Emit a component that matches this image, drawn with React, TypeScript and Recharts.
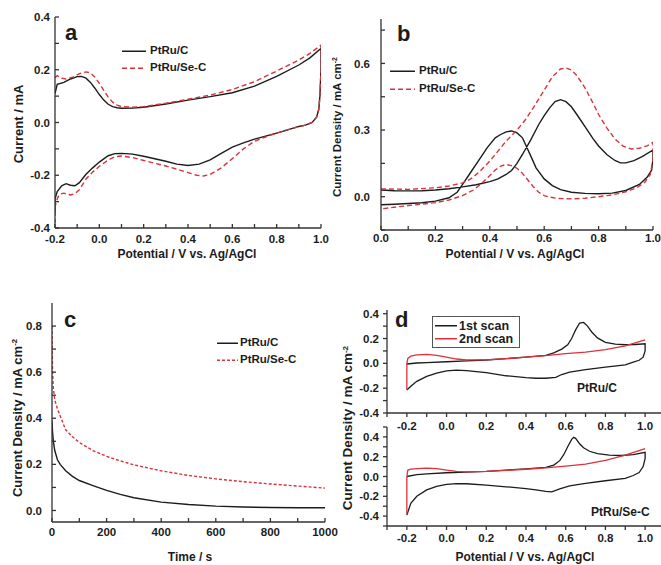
import React from 'react';
import { LineChart, Line, XAxis, YAxis } from 'recharts';

type Pt = [number, number];

// ---- panel a: CV in N2 (current vs potential) ----
const aPtRuC: Pt[] = [
  [-0.2, 0.11], [-0.19, 0.145], [-0.16, 0.152], [-0.13, 0.165], [-0.1, 0.174], [-0.08, 0.175],
  [-0.06, 0.168], [-0.04, 0.152], [-0.02, 0.13], [0.0, 0.106], [0.02, 0.085], [0.04, 0.069],
  [0.06, 0.06], [0.08, 0.056], [0.1, 0.054], [0.15, 0.055], [0.2, 0.058], [0.3, 0.07],
  [0.4, 0.085], [0.5, 0.098], [0.6, 0.113], [0.7, 0.138], [0.8, 0.175], [0.9, 0.218],
  [0.95, 0.245], [1.0, 0.281],
  [1.0, 0.2], [0.995, 0.1], [0.99, 0.05], [0.98, 0.02], [0.96, 0.0], [0.93, -0.01], [0.9, -0.015],
  [0.85, -0.028], [0.8, -0.04], [0.7, -0.063], [0.65, -0.077], [0.6, -0.093], [0.55, -0.117],
  [0.5, -0.142], [0.45, -0.158], [0.4, -0.163], [0.35, -0.158], [0.3, -0.147], [0.2, -0.128],
  [0.15, -0.12], [0.1, -0.117], [0.07, -0.118], [0.04, -0.126], [0.0, -0.15], [-0.03, -0.172],
  [-0.06, -0.196], [-0.09, -0.228], [-0.11, -0.24], [-0.13, -0.238], [-0.15, -0.232],
  [-0.17, -0.24], [-0.19, -0.262], [-0.2, -0.29], [-0.2, -0.34],
];
const aPtRuSeC: Pt[] = [
  [-0.2, 0.17], [-0.19, 0.178], [-0.17, 0.168], [-0.15, 0.165], [-0.12, 0.172], [-0.09, 0.185],
  [-0.06, 0.192], [-0.04, 0.188], [-0.02, 0.172], [0.0, 0.148], [0.02, 0.122], [0.04, 0.096],
  [0.06, 0.077], [0.08, 0.066], [0.1, 0.06], [0.15, 0.058], [0.2, 0.06], [0.3, 0.073],
  [0.4, 0.088], [0.5, 0.104], [0.6, 0.125], [0.7, 0.155], [0.8, 0.195], [0.9, 0.237],
  [0.95, 0.262], [1.0, 0.293],
  [1.0, 0.2], [0.995, 0.1], [0.99, 0.05], [0.98, 0.02], [0.96, 0.0], [0.93, -0.01], [0.9, -0.016],
  [0.85, -0.027], [0.8, -0.04], [0.75, -0.055], [0.7, -0.071], [0.65, -0.1], [0.6, -0.137],
  [0.55, -0.172], [0.5, -0.197], [0.47, -0.203], [0.44, -0.2], [0.4, -0.19], [0.35, -0.177],
  [0.3, -0.165], [0.2, -0.144], [0.15, -0.133], [0.1, -0.127], [0.07, -0.13], [0.04, -0.142],
  [0.0, -0.166], [-0.03, -0.188], [-0.06, -0.214], [-0.09, -0.255], [-0.11, -0.27],
  [-0.13, -0.275], [-0.16, -0.268], [-0.18, -0.272], [-0.19, -0.29], [-0.2, -0.32], [-0.2, -0.38],
];

// ---- panel b: methanol oxidation CV ----
const bPtRuC: Pt[] = [
  [0.0, 0.03], [0.05, 0.027], [0.1, 0.026], [0.15, 0.027], [0.2, 0.03], [0.25, 0.036], [0.3, 0.044],
  [0.35, 0.054], [0.4, 0.068], [0.43, 0.08], [0.46, 0.1], [0.48, 0.118], [0.5, 0.15], [0.52, 0.19],
  [0.55, 0.255], [0.58, 0.325], [0.6, 0.365], [0.62, 0.4], [0.64, 0.428], [0.66, 0.437],
  [0.68, 0.428], [0.7, 0.405], [0.72, 0.37], [0.75, 0.315], [0.78, 0.26], [0.8, 0.228],
  [0.83, 0.19], [0.86, 0.163], [0.88, 0.152], [0.9, 0.152], [0.93, 0.162], [0.96, 0.18], [1.0, 0.21],
  [1.0, 0.17], [0.995, 0.12], [0.98, 0.09], [0.95, 0.055], [0.9, 0.028], [0.85, 0.016], [0.8, 0.013],
  [0.75, 0.015], [0.7, 0.02], [0.66, 0.032], [0.63, 0.05], [0.6, 0.08], [0.57, 0.13], [0.55, 0.185],
  [0.52, 0.265], [0.5, 0.287], [0.48, 0.296], [0.46, 0.292], [0.44, 0.28], [0.42, 0.265],
  [0.39, 0.22], [0.36, 0.165], [0.33, 0.11], [0.3, 0.055], [0.28, 0.02], [0.25, -0.005],
  [0.2, -0.02], [0.15, -0.027], [0.1, -0.031], [0.05, -0.034], [0.0, -0.036],
];
const bPtRuSeC: Pt[] = [
  [0.0, 0.035], [0.1, 0.033], [0.2, 0.04], [0.25, 0.048], [0.3, 0.062], [0.33, 0.08], [0.36, 0.11],
  [0.4, 0.16], [0.43, 0.205], [0.46, 0.25], [0.5, 0.3], [0.53, 0.345], [0.56, 0.4], [0.6, 0.48],
  [0.63, 0.54], [0.66, 0.575], [0.68, 0.58], [0.7, 0.57], [0.72, 0.545], [0.75, 0.49], [0.78, 0.42],
  [0.8, 0.37], [0.83, 0.31], [0.86, 0.26], [0.89, 0.228], [0.92, 0.215], [0.95, 0.218],
  [0.98, 0.23], [1.0, 0.245],
  [1.0, 0.17], [0.99, 0.1], [0.97, 0.065], [0.94, 0.04], [0.9, 0.022], [0.85, 0.008], [0.8, 0.0],
  [0.75, -0.007], [0.7, -0.01], [0.65, -0.008], [0.62, -0.002], [0.6, 0.005], [0.58, 0.02],
  [0.56, 0.045], [0.54, 0.075], [0.52, 0.105], [0.5, 0.128], [0.48, 0.14], [0.46, 0.145],
  [0.44, 0.138], [0.42, 0.12], [0.4, 0.095], [0.37, 0.06], [0.34, 0.03], [0.3, 0.005],
  [0.25, -0.015], [0.2, -0.027], [0.1, -0.04], [0.0, -0.055],
];

// ---- panel c: chronoamperometry ----
const cTime = [0, 2, 5, 10, 20, 30, 50, 75, 100, 150, 200, 250, 300, 400, 500, 600, 700, 800, 900, 1000];
const cPtRuC = [0.39, 0.34, 0.3, 0.26, 0.22, 0.2, 0.172, 0.148, 0.13, 0.108, 0.087, 0.07, 0.055, 0.036, 0.026, 0.019, 0.015, 0.013, 0.012, 0.012];
const cPtRuSeC = [0.8, 0.6, 0.53, 0.48, 0.44, 0.41, 0.35, 0.32, 0.295, 0.26, 0.235, 0.215, 0.198, 0.172, 0.152, 0.137, 0.125, 0.115, 0.106, 0.097];

// ---- panel d: CO stripping, 1st and 2nd scans ----
const dC1st: Pt[] = [
  [-0.2, -0.005], [-0.15, 0.003], [-0.1, 0.006], [0.0, 0.013], [0.1, 0.02], [0.2, 0.027], [0.3, 0.038],
  [0.4, 0.05], [0.5, 0.065], [0.54, 0.085], [0.58, 0.115], [0.61, 0.15], [0.63, 0.2], [0.65, 0.27],
  [0.67, 0.325], [0.69, 0.33], [0.71, 0.3], [0.73, 0.255], [0.76, 0.205], [0.8, 0.17],
  [0.85, 0.155], [0.9, 0.15], [0.95, 0.152], [1.0, 0.158],
  [1.0, 0.1], [0.99, 0.05], [0.97, 0.025], [0.94, 0.01], [0.9, -0.012], [0.8, -0.03], [0.7, -0.05],
  [0.62, -0.07], [0.58, -0.09], [0.55, -0.113], [0.5, -0.12], [0.45, -0.12], [0.4, -0.115],
  [0.3, -0.1], [0.2, -0.075], [0.1, -0.058], [0.05, -0.055], [0.0, -0.06], [-0.05, -0.078],
  [-0.1, -0.105], [-0.15, -0.145], [-0.18, -0.185], [-0.2, -0.215],
];
const dC2nd: Pt[] = [
  [-0.2, -0.21], [-0.2, 0.0], [-0.195, 0.04], [-0.18, 0.058], [-0.15, 0.068], [-0.1, 0.072],
  [-0.05, 0.065], [0.0, 0.05], [0.05, 0.035], [0.1, 0.028], [0.2, 0.028], [0.3, 0.038], [0.4, 0.05],
  [0.5, 0.063], [0.6, 0.078], [0.7, 0.09], [0.8, 0.11], [0.9, 0.14], [1.0, 0.19],
];
const dSe1st: Pt[] = [
  [-0.2, 0.0], [-0.15, 0.018], [-0.1, 0.027], [0.0, 0.038], [0.1, 0.045], [0.2, 0.052], [0.3, 0.065],
  [0.4, 0.078], [0.5, 0.092], [0.54, 0.115], [0.57, 0.16], [0.59, 0.22], [0.61, 0.3], [0.63, 0.375],
  [0.64, 0.395], [0.65, 0.385], [0.67, 0.33], [0.69, 0.29], [0.72, 0.255], [0.76, 0.23],
  [0.82, 0.215], [0.88, 0.212], [0.94, 0.22], [1.0, 0.245],
  [1.0, 0.18], [0.99, 0.1], [0.97, 0.04], [0.94, 0.01], [0.9, -0.018], [0.8, -0.043], [0.7, -0.07],
  [0.62, -0.095], [0.57, -0.125], [0.53, -0.155], [0.5, -0.15], [0.45, -0.135], [0.4, -0.122],
  [0.3, -0.104], [0.2, -0.087], [0.1, -0.073], [0.05, -0.072], [0.0, -0.08], [-0.05, -0.1],
  [-0.1, -0.135], [-0.15, -0.2], [-0.18, -0.27], [-0.2, -0.39],
];
const dSe2nd: Pt[] = [
  [-0.2, -0.38], [-0.2, 0.0], [-0.195, 0.065], [-0.18, 0.075], [-0.15, 0.08], [-0.1, 0.085],
  [-0.05, 0.08], [0.0, 0.065], [0.05, 0.052], [0.1, 0.047], [0.2, 0.052], [0.3, 0.062], [0.4, 0.073],
  [0.5, 0.088], [0.6, 0.105], [0.7, 0.125], [0.8, 0.163], [0.9, 0.215], [1.0, 0.282],
];

// ticks
const ticksA_x = [-0.2, -0.1, 0, 0.1, 0.2, 0.3, 0.4, 0.5, 0.6, 0.7, 0.8, 0.9, 1.0];
const ticksA_y = [-0.4, -0.3, -0.2, -0.1, 0, 0.1, 0.2, 0.3, 0.4];
const ticksB_x = [0, 0.1, 0.2, 0.3, 0.4, 0.5, 0.6, 0.7, 0.8, 0.9, 1.0];
const ticksB_y = [-0.15, 0, 0.15, 0.3, 0.45, 0.6, 0.75];
const ticksC_x = [0, 100, 200, 300, 400, 500, 600, 700, 800, 900, 1000];
const ticksC_y = [0, 0.1, 0.2, 0.3, 0.4, 0.5, 0.6, 0.7, 0.8];
const ticksD_x = [-0.3, -0.2, -0.1, 0, 0.1, 0.2, 0.3, 0.4, 0.5, 0.6, 0.7, 0.8, 0.9, 1.0];
const ticksD1_y = [-0.4, -0.3, -0.2, -0.1, 0, 0.1, 0.2, 0.3, 0.4];
const ticksD2_y = [-0.5, -0.4, -0.3, -0.2, -0.1, 0, 0.1, 0.2, 0.3, 0.4, 0.5];

const FONT = '"Liberation Sans", Arial, Helvetica, sans-serif';
const INK = '#1c1c1c';
const RED = '#d8333a';
const RED_D = '#e0303a';

const toRows = (pts: Pt[]) => pts.map(([x, y]) => ({ x, y }));
const even = (v: number) => (Math.round(v * 10) % 2 === 0 ? v.toFixed(1) : '');
const evenB = (v: number) => (Math.round(v / 0.15) % 2 === 0 ? v.toFixed(1) : '');
const evenC = (v: number) => (v % 200 === 0 ? String(v) : '');

type Series = { data: Pt[]; color: string; dash?: string; width?: number };

interface PanelProps {
  left: number;
  top: number;
  width: number;
  height: number;
  mt: number;
  mr: number;
  yw: number;
  xh: number;
  xDomain: [number, number];
  yDomain: [number, number];
  xTicks: number[];
  yTicks: number[];
  xFmt: (v: number) => string;
  yFmt: (v: number) => string;
  series: Series[];
  inward: boolean;
  frame: boolean;
  xMargin: number;
  yMargin: number;
  fontSize?: number;
}

function Panel(p: PanelProps) {
  const tickStyle = { fontSize: p.fontSize ?? 11.5, fontWeight: 700, fill: INK, fontFamily: FONT };
  const size = p.inward ? -4 : 4;
  const axisLine = { stroke: '#333', strokeWidth: 1.3 };
  return (
    <div style={{ position: 'absolute', left: p.left, top: p.top }}>
      <LineChart width={p.width} height={p.height} margin={{ top: p.mt, right: p.mr, left: 0, bottom: 0 }}>
        <XAxis
          type="number"
          dataKey="x"
          domain={p.xDomain}
          allowDataOverflow
          ticks={p.xTicks}
          interval={0}
          tickFormatter={p.xFmt}
          height={p.xh}
          tickSize={size}
          tickMargin={p.xMargin}
          tick={tickStyle}
          axisLine={axisLine}
          tickLine={axisLine}
        />
        <YAxis
          type="number"
          domain={p.yDomain}
          allowDataOverflow
          ticks={p.yTicks}
          interval={0}
          tickFormatter={p.yFmt}
          width={p.yw}
          tickSize={size}
          tickMargin={p.yMargin}
          tick={tickStyle}
          axisLine={axisLine}
          tickLine={axisLine}
        />
        {p.frame && (
          <XAxis xAxisId="top" orientation="top" type="number" domain={p.xDomain} height={0} tick={false} tickLine={false} axisLine={axisLine} />
        )}
        {p.frame && (
          <YAxis yAxisId="right" orientation="right" type="number" domain={p.yDomain} width={0} tick={false} tickLine={false} axisLine={axisLine} />
        )}
        {p.series.map((s, i) => (
          <Line
            key={i}
            data={toRows(s.data)}
            dataKey="y"
            type="linear"
            dot={false}
            activeDot={false}
            stroke={s.color}
            strokeWidth={s.width ?? 1.4}
            strokeDasharray={s.dash}
            isAnimationActive={false}
          />
        ))}
      </LineChart>
    </div>
  );
}

function Txt({ x, y, size = 12, rotate = false, children, anchor = 'center', color = INK }: any) {
  const tx = anchor === 'center' ? '-50%' : '0';
  return (
    <div
      style={{
        position: 'absolute',
        left: x,
        top: y,
        transform: `translate(${tx}, -50%)${rotate ? ' rotate(-90deg)' : ''}`,
        transformOrigin: anchor === 'center' ? 'center' : 'left center',
        whiteSpace: 'nowrap',
        fontFamily: FONT,
        fontWeight: 700,
        fontSize: size,
        color,
        lineHeight: 1,
      }}
    >
      {children}
    </div>
  );
}

function LegendRow({ x, y, len, color, dash, label, size = 11.5, gap = 4 }: any) {
  return (
    <div style={{ position: 'absolute', left: x, top: y, transform: 'translateY(-50%)', display: 'flex', alignItems: 'center' }}>
      <svg width={len} height={6} style={{ display: 'block' }}>
        <line x1={0} y1={3} x2={len} y2={3} stroke={color} strokeWidth={1.4} strokeDasharray={dash} />
      </svg>
      <span style={{ marginLeft: gap, fontFamily: FONT, fontWeight: 700, fontSize: size, color: INK, lineHeight: 1 }}>{label}</span>
    </div>
  );
}

const cm2 = (
  <>
    Current Density / mA cm<sup style={{ fontSize: '0.6em', verticalAlign: '0.55em' }}>-2</sup>
  </>
);

export default function App() {
  const cRowsC: Pt[] = cTime.map((t, i) => [t, cPtRuC[i]]);
  const cRowsSe: Pt[] = cTime.map((t, i) => [t, cPtRuSeC[i]]);
  return (
    <div style={{ position: 'fixed', left: 0, top: 0, width: 661, height: 565, background: '#fff', overflow: 'hidden' }}>
      {/* a */}
      <Panel
        left={0} top={0} width={330} height={270} mt={17} mr={9} yw={55} xh={42}
        xDomain={[-0.2, 1.0]} yDomain={[-0.4, 0.4]} xTicks={ticksA_x} yTicks={ticksA_y}
        xFmt={even} yFmt={even} inward frame xMargin={11} yMargin={9}
        series={[
          { data: aPtRuC, color: INK },
          { data: aPtRuSeC, color: RED, dash: '5 3' },
        ]}
      />
      <Txt x={65} y={33} size={22} anchor="left">a</Txt>
      <LegendRow x={122} y={51} len={24} color={INK} label="PtRu/C" />
      <LegendRow x={122} y={68} len={24} color={RED} dash="5 3" label="PtRu/Se-C" />
      <Txt x={187} y={254}>Potential / V vs. Ag/AgCl</Txt>
      <Txt x={18} y={124} size={13} rotate>Current / mA</Txt>

      {/* b */}
      <Panel
        left={330} top={0} width={331} height={272} mt={19} mr={8} yw={51} xh={42}
        xDomain={[0, 1.0]} yDomain={[-0.15, 0.8]} xTicks={ticksB_x} yTicks={ticksB_y}
        xFmt={even} yFmt={evenB} inward frame xMargin={8} yMargin={15}
        series={[
          { data: bPtRuC, color: INK },
          { data: bPtRuSeC, color: RED, dash: '5 3' },
        ]}
      />
      <Txt x={397} y={34} size={22} anchor="left">b</Txt>
      <LegendRow x={390} y={71} len={25} color={INK} label="PtRu/C" />
      <LegendRow x={390} y={89} len={25} color={RED} dash="5 3" label="PtRu/Se-C" />
      <Txt x={515} y={254}>Potential / V vs. Ag/AgCl</Txt>
      <Txt x={338} y={127} size={11.5} rotate>{cm2}</Txt>

      {/* c */}
      <Panel
        left={0} top={290} width={345} height={274} mt={13} mr={20} yw={52} xh={42}
        xDomain={[0, 1000]} yDomain={[-0.05, 0.9]} xTicks={ticksC_x} yTicks={ticksC_y}
        xFmt={evenC} yFmt={even} inward frame xMargin={10} yMargin={14}
        series={[
          { data: cRowsC, color: INK },
          { data: cRowsSe, color: RED, dash: '3 2' },
        ]}
      />
      <Txt x={64} y={320} size={22} anchor="left">c</Txt>
      <LegendRow x={217} y={343} len={21} color={INK} label="PtRu/C" gap={2} />
      <LegendRow x={217} y={360} len={21} color={RED} dash="3 2" label="PtRu/Se-C" gap={2} />
      <Txt x={190} y={557}>Time / s</Txt>
      <Txt x={17} y={418} size={13} rotate>{cm2}</Txt>

      {/* d top */}
      <Panel
        left={340} top={300} width={321} height={133} mt={10} mr={0} yw={47} xh={20}
        xDomain={[-0.3, 1.08]} yDomain={[-0.4, 0.43]} xTicks={ticksD_x} yTicks={ticksD1_y}
        xFmt={even} yFmt={even} inward={false} frame={false} xMargin={5} yMargin={4}
        series={[
          { data: dC1st, color: INK, width: 1.3 },
          { data: dC2nd, color: RED_D, width: 1.3 },
        ]}
      />
      {/* d bottom */}
      <Panel
        left={340} top={417} width={321} height={133} mt={10} mr={0} yw={47} xh={24}
        xDomain={[-0.3, 1.08]} yDomain={[-0.5, 0.5]} xTicks={ticksD_x} yTicks={ticksD2_y}
        xFmt={even} yFmt={even} inward={false} frame={false} xMargin={4} yMargin={4}
        series={[
          { data: dSe1st, color: INK, width: 1.3 },
          { data: dSe2nd, color: RED_D, width: 1.3 },
        ]}
      />
      <Txt x={395} y={320} size={22} anchor="left">d</Txt>
      <div style={{ position: 'absolute', left: 432, top: 316, width: 86, height: 30, border: '1px solid #555', background: '#fff' }} />
      <LegendRow x={435} y={326} len={22} color={INK} label="1st scan" size={12.5} gap={2} />
      <LegendRow x={435} y={339} len={22} color={RED_D} label="2nd scan" size={12.5} gap={2} />
      <Txt x={577} y={388} size={12} anchor="left">PtRu/C</Txt>
      <Txt x={591} y={512} size={12} anchor="left">PtRu/Se-C</Txt>
      <Txt x={525} y={557}>Potential / V vs. Ag/AgCl</Txt>
      <Txt x={348} y={428} size={13.5} rotate>{cm2}</Txt>
    </div>
  );
}
